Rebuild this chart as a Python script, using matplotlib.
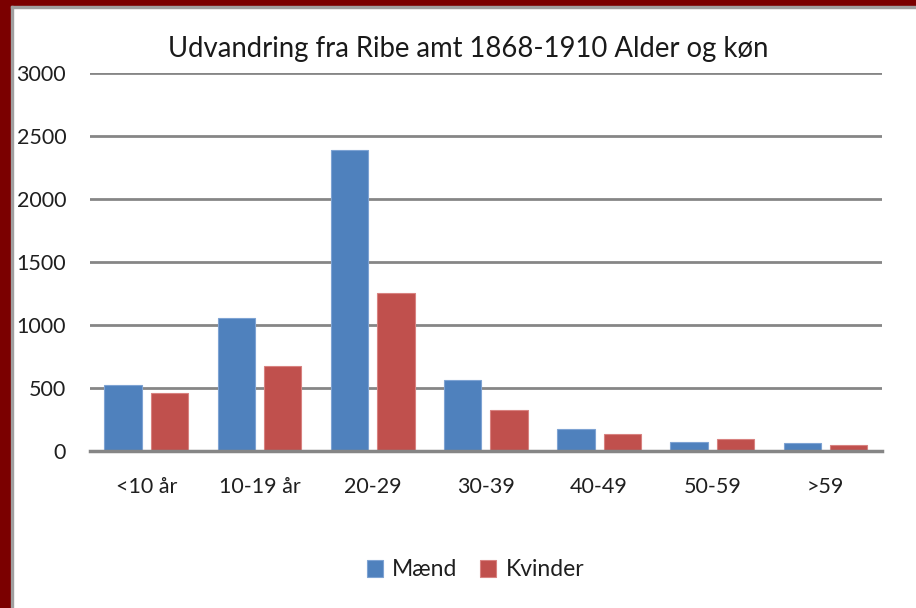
import matplotlib as mpl
mpl.use('Agg')
import matplotlib.pyplot as plt
import numpy as np
from matplotlib.patches import Rectangle

plt.rcParams['font.family'] = ['Lato', 'DejaVu Sans']

categories = ['<10 år', '10-19 år', '20-29', '30-39', '40-49', '50-59', '>59']
maend = [518, 1055, 2386, 559, 170, 66, 58]
kvinder = [456, 672, 1249, 321, 130, 90, 47]
yticks = [0, 500, 1000, 1500, 2000, 2500, 3000]

fig = plt.figure(figsize=(9.16, 6.08), dpi=100)
ax = fig.add_axes([0.098, 0.259, 0.865, 0.621])

x = np.arange(len(categories))
w = 0.33
ax.bar(x - 0.205, maend, width=w, color='#4F81BD', edgecolor='#7EA3D3', linewidth=0.8, label='Mænd', zorder=3)
ax.bar(x + 0.205, kvinder, width=w, color='#C0504D', edgecolor='#D88280', linewidth=0.8, label='Kvinder', zorder=3)

ax.set_xlim(-0.5, len(categories) - 0.5)
ax.set_ylim(0, 3000)
ax.set_yticks(yticks)
ax.set_xticks(x)
ax.set_xticklabels(categories)
ax.yaxis.grid(True, color='#868686', linewidth=2.0, zorder=0)
for s in ['top', 'right', 'left']:
    ax.spines[s].set_visible(False)
ax.spines['bottom'].set_color('#868686')
ax.spines['bottom'].set_linewidth(2.5)
ax.spines['bottom'].set_zorder(4)
ax.tick_params(axis='both', length=0, labelsize=15.5, colors='#1f1f1f')
ax.tick_params(axis='y', pad=17)
ax.tick_params(axis='x', pad=19)

fig.text(0.511, 0.92, 'Udvandring fra Ribe amt 1868-1910 Alder og køn',
         ha='center', va='center', fontsize=19.8, color='#1a1a1a')

fig.legend(loc='center', bbox_to_anchor=(0.519, 0.0625), ncol=2, frameon=False,
           fontsize=16.5, handlelength=0.7, handleheight=0.7, handletextpad=0.4,
           columnspacing=1.0, labelcolor='#1f1f1f')

# dark red frame on left and top edges with a thin grey inner line
fig.patches.append(Rectangle((0, 0), 11 / 916, 1, transform=fig.transFigure, color='#7B0000', zorder=10))
fig.patches.append(Rectangle((0, 1 - 6 / 608), 1, 6 / 608, transform=fig.transFigure, color='#7B0000', zorder=10))
fig.patches.append(Rectangle((11 / 916, 0), 2 / 916, 1 - 6 / 608, transform=fig.transFigure, color='#A0A0A0', zorder=10))
fig.patches.append(Rectangle((11 / 916, 1 - 8 / 608), 1, 2 / 608, transform=fig.transFigure, color='#A0A0A0', zorder=10))

fig.savefig('out.png', dpi=100)
